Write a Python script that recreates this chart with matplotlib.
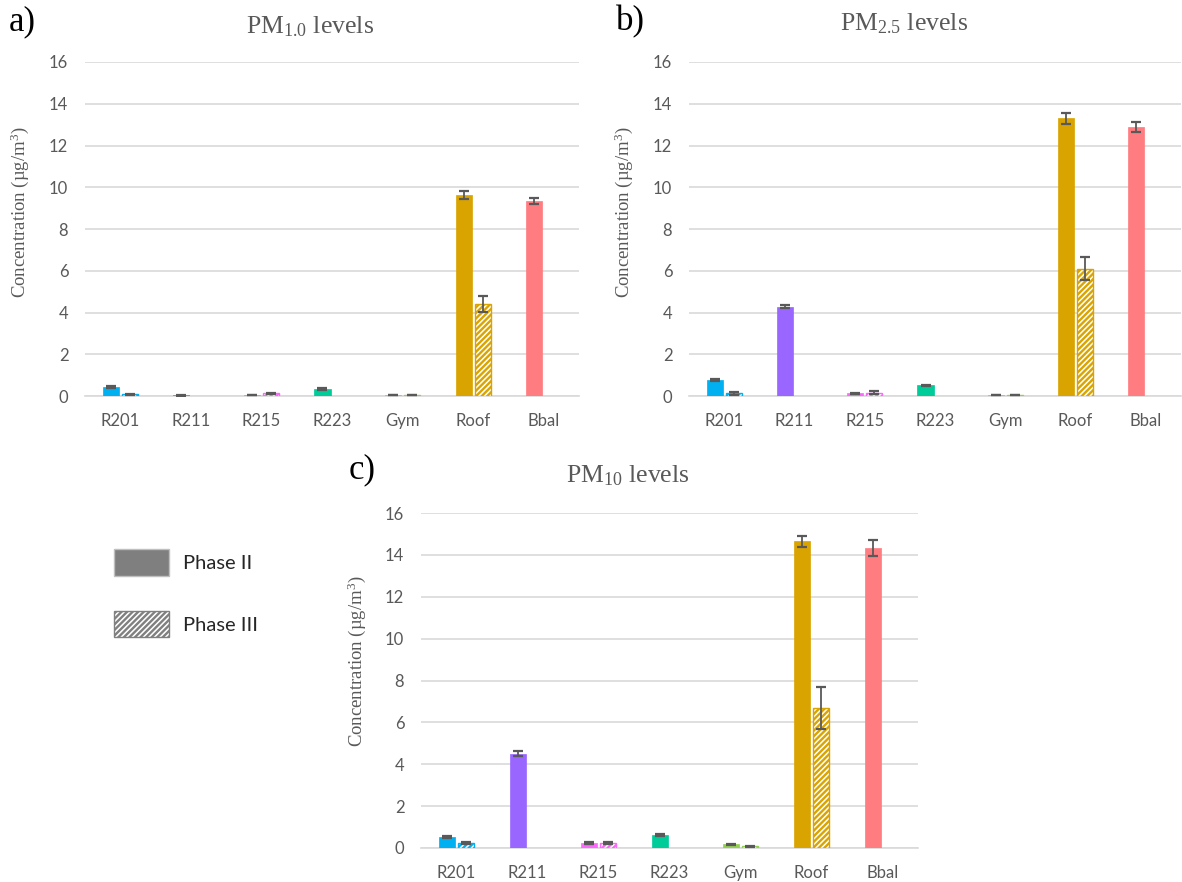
import numpy as np
import matplotlib
matplotlib.use("Agg")
import matplotlib.pyplot as plt
from matplotlib.patches import Patch

nan = np.nan

# Categories (sampling sites)
cats = ['R201', 'R211', 'R215', 'R223', 'Gym', 'Roof', 'Bbal']
site_colors = ['#00B0F0', '#9966FF', '#FF66FF', '#00CC99', '#92D050', '#DAA400', '#FF7C80']

# PM1.0
pm1_p2 = [0.42, 0.03, 0.05, 0.33, 0.05, 9.62, 9.35]
pm1_p2_err = [0.04, 0.01, 0.01, 0.04, 0.01, 0.18, 0.15]
pm1_p3 = [0.08, nan, 0.13, nan, 0.06, 4.42, nan]
pm1_p3_err = [0.02, nan, 0.03, nan, 0.01, 0.38, nan]

# PM2.5
pm25_p2 = [0.77, 4.28, 0.12, 0.52, 0.06, 13.30, 12.87]
pm25_p2_err = [0.05, 0.08, 0.02, 0.03, 0.01, 0.25, 0.24]
pm25_p3 = [0.12, nan, 0.15, nan, 0.05, 6.10, nan]
pm25_p3_err = [0.05, nan, 0.07, nan, 0.01, 0.55, nan]

# PM10
pm10_p2 = [0.51, 4.50, 0.25, 0.62, 0.17, 14.65, 14.33]
pm10_p2_err = [0.05, 0.12, 0.04, 0.05, 0.03, 0.25, 0.38]
pm10_p3 = [0.22, nan, 0.25, nan, 0.08, 6.70, nan]
pm10_p3_err = [0.05, nan, 0.06, nan, 0.02, 1.00, nan]

plt.rcParams['hatch.linewidth'] = 1.7
plt.rcParams['mathtext.fontset'] = 'custom'
plt.rcParams['mathtext.rm'] = 'Liberation Serif'
plt.rcParams['mathtext.it'] = 'Liberation Serif:italic'

W, H = 1182, 882
fig = plt.figure(figsize=(W / 100, H / 100), dpi=100)

TXT = '#595959'
GRID = '#D9D9D9'
SERIF = 'Liberation Serif'
SANS = 'Lato'


def px_axes(x0, x1, ytop, ybot):
    return fig.add_axes([x0 / W, 1 - ybot / H, (x1 - x0) / W, (ybot - ytop) / H])


def draw_panel(ax, p2, p2e, p3, p3e):
    x = np.arange(len(cats))
    off, bw = 0.135, 0.23
    ax.bar(x - off, p2, bw, color=site_colors, edgecolor=site_colors, linewidth=0.5, zorder=3)
    ax.bar(x + off, p3, bw, color='white', edgecolor=site_colors, hatch='//////',
           linewidth=1.0, zorder=3)
    ek = dict(fmt='none', ecolor='#595959', elinewidth=1.3, capsize=3.3, capthick=1.6, zorder=4)
    ax.errorbar(x - off, p2, yerr=p2e, **ek)
    ax.errorbar(x + off, p3, yerr=p3e, **ek)
    ax.set_xlim(-0.5, len(cats) - 0.5)
    ax.set_ylim(0, 16)
    ax.set_yticks(range(0, 17, 2))
    ax.set_xticks(x)
    ax.set_xticklabels(cats)
    ax.yaxis.grid(True, color=GRID, linewidth=1.2, zorder=0)
    ax.set_axisbelow(True)
    for s in ['top', 'right', 'left']:
        ax.spines[s].set_visible(False)
    ax.spines['bottom'].set_color(GRID)
    ax.spines['bottom'].set_linewidth(1.2)
    ax.tick_params(length=0, colors=TXT, labelsize=12, pad=12)
    ax.tick_params(axis='x', pad=12)
    for lab in ax.get_xticklabels() + ax.get_yticklabels():
        lab.set_fontfamily(SANS)


ax_a = px_axes(85, 579, 62, 396)
ax_b = px_axes(689, 1181, 62, 396)
ax_c = px_axes(421, 918, 513, 848)

draw_panel(ax_a, pm1_p2, pm1_p2_err, pm1_p3, pm1_p3_err)
draw_panel(ax_b, pm25_p2, pm25_p2_err, pm25_p3, pm25_p3_err)
draw_panel(ax_c, pm10_p2, pm10_p2_err, pm10_p3, pm10_p3_err)

# titles
fig.text(310 / W, 1 - 27 / H, 'PM$_{1.0}$ levels', ha='center', va='center',
         fontsize=18.5, color=TXT, family=SERIF)
fig.text(904 / W, 1 - 24 / H, 'PM$_{2.5}$ levels', ha='center', va='center',
         fontsize=18.5, color=TXT, family=SERIF)
fig.text(628 / W, 1 - 476 / H, 'PM$_{10}$ levels', ha='center', va='center',
         fontsize=18.5, color=TXT, family=SERIF)

# panel letters
fig.text(22 / W, 1 - 22 / H, 'a)', ha='center', va='center', fontsize=25, family=SERIF)
fig.text(630 / W, 1 - 22 / H, 'b)', ha='center', va='center', fontsize=25, family=SERIF)
fig.text(362 / W, 1 - 470 / H, 'c)', ha='center', va='center', fontsize=25, family=SERIF)

# y labels
ylab = 'Concentration (µg/m$^3$)'
fig.text(20 / W, 1 - 212 / H, ylab, rotation=90, ha='center', va='center',
         fontsize=13.5, color=TXT, family=SERIF)
fig.text(624 / W, 1 - 212 / H, ylab, rotation=90, ha='center', va='center',
         fontsize=13.5, color=TXT, family=SERIF)
fig.text(357 / W, 1 - 661 / H, ylab, rotation=90, ha='center', va='center',
         fontsize=13.5, color=TXT, family=SERIF)

# legend
handles = [
    Patch(facecolor='#7F7F7F', edgecolor='#BFBFBF', linewidth=1.0, label='Phase II'),
    Patch(facecolor='white', edgecolor='#808080', hatch='//////', linewidth=1.0, label='Phase III'),
]
leg = fig.legend(handles=handles, loc='upper left', bbox_to_anchor=(114 / W, 1 - 549 / H),
                 frameon=False, borderpad=0, borderaxespad=0,
                 handlelength=2.75, handleheight=1.65, handletextpad=0.7, labelspacing=1.75,
                 prop={'family': SANS, 'size': 14.5})
for t in leg.get_texts():
    t.set_color('#262626')

fig.savefig('out.png', dpi=100)
